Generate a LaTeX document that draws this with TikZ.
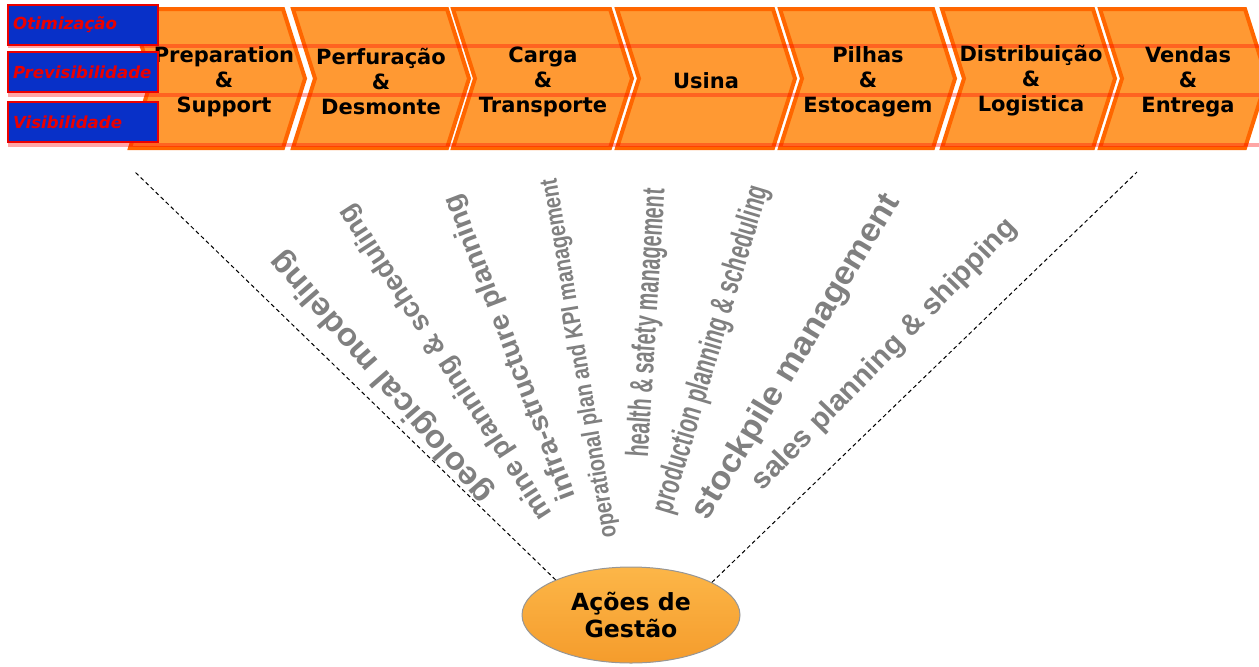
\documentclass[tikz,border=0pt]{standalone}
\usepackage{fontspec}
\setmainfont{DejaVu Sans}
\newfontfamily\arialfont{Liberation Sans}
\usepackage{tikz}
\usetikzlibrary{shapes,calc,positioning}
\definecolor{naranja}{RGB}{255,153,51}
\definecolor{naranjaOscuro}{RGB}{255,102,0}
\definecolor{naranjaClaro}{RGB}{252,182,72}
\definecolor{naranjaGestao}{RGB}{245,156,44}
\definecolor{azul}{RGB}{8,48,200}
\definecolor{rojo}{RGB}{235,0,0}
\definecolor{gris}{RGB}{128,128,128}
\definecolor{grisBorde}{RGB}{150,150,150}
\tikzstyle{chevron}=[fill=naranja, draw=naranjaOscuro,
                    line width=2pt, line join=miter]
\tikzstyle{fila}   =[draw=red, opacity=0.35, line width=2pt]
\tikzstyle{etapa}  =[align=center, inner sep=0pt,
                    font=\bfseries\fontsize{10.5}{12.5}\selectfont]
\tikzstyle{caja}   =[draw=rojo, fill=azul, line width=0.8pt,
                    minimum width=75pt, minimum height=20pt,
                    text width=70pt, inner sep=2.5pt, align=left,
                    text=rojo, font=\bfseries\itshape\fontsize{8.3}{10}\selectfont]
\tikzstyle{accion} =[text=gris, inner sep=0pt]
\tikzstyle{guia}   =[line width=0.5pt, dash pattern=on 2pt off 1.5pt]
\tikzstyle{gestion}=[ellipse, draw=grisBorde, line width=0.5pt,
                    top color=naranjaClaro, bottom color=naranjaGestao,
                    minimum width=109pt, minimum height=48pt, inner sep=0pt,
                    align=center, font=\bfseries\fontsize{11.8}{13.5}\selectfont]

\begin{document}
\begin{tikzpicture}[x=0.5pt,y=-0.5pt]
    \useasboundingbox (0,0) rectangle (1259,666);

    %cadena de valor
    \foreach \l/\r in {130/283,293/447,453/610,617/773,780/933,942/1093,1100/1245}
        \draw[chevron] (\l,9) -- (\r,9) -- (\r+22,78.5) -- (\r,148)
            -- (\l,148) -- (\l+22,78.5) -- cycle;
    \foreach \y in {46,95,145}
        \draw[fila] (8,\y) -- (1259,\y);

    \node (1) [etapa] at (224,82) {Preparation\\\&\\Support};
    \node (2) [etapa] at (381,81) {Perfuração\\\&\\Desmonte};
    \node (3) [etapa] at (543,82) {Carga\\\&\\Transporte};
    \node (4) [etapa] at (706,81) {Usina};
    \node (5) [etapa] at (868,82) {Pilhas\\\&\\Estocagem};
    \node (6) [etapa] at (1031,81) {Distribuição\\\&\\Logistica};
    \node (7) [etapa] at (1188,82) {Vendas\\\&\\Entrega};

    %niveis
    \foreach \t/\y [count=\i] in {Otimização/25,Previsibilidade/72,Visibilidade/122}
        \node (n\i) [caja] at (83,\y) {\t};

    %acoes
    \node (a1) [accion, rotate=131, xscale=1.04,
        font=\arialfont\bfseries\fontsize{16}{16}\selectfont] at (382,377) {geological modeling};
    \node (a2) [accion, rotate=123, xscale=0.99,
        font=\arialfont\bfseries\fontsize{14}{14}\selectfont] at (446,362) {mine planning \& scheduling};
    \node (a3) [accion, rotate=111, xscale=1.03,
        font=\arialfont\bfseries\fontsize{14}{14}\selectfont] at (511,347) {infra-structure planning};
    \node (a4) [accion, rotate=99.5, xscale=0.8,
        font=\arialfont\bfseries\fontsize{12.5}{12.5}\selectfont] at (580,358) {operational plan and KPI management};
    \node (a5) [accion, rotate=86.4, xscale=0.62,
        font=\arialfont\bfseries\fontsize{16}{16}\selectfont] at (648,323) {health \& safety management};
    \node (a6) [accion, rotate=73.4, xscale=0.655,
        font=\arialfont\bfseries\fontsize{16}{16}\selectfont] at (712,350) {production planning \& scheduling};
    \node (a7) [accion, rotate=58.9, xscale=1.05,
        font=\arialfont\bfseries\fontsize{16.5}{16.5}\selectfont] at (797,357) {stockpile management};
    \node (a8) [accion, rotate=45.9, xscale=1.02,
        font=\arialfont\bfseries\fontsize{14.5}{14.5}\selectfont] at (885,355) {sales planning \& shipping};

    %gestao
    \node (g) [gestion] at (631,615) {Ações de\\Gestão};
    \coordinate (gi) at (135,172);
    \coordinate (gd) at (1137,172);
    \draw[guia] (g.155) -- (gi);
    \draw[guia] (g.22) -- (gd);

\end{tikzpicture}
\end{document}
